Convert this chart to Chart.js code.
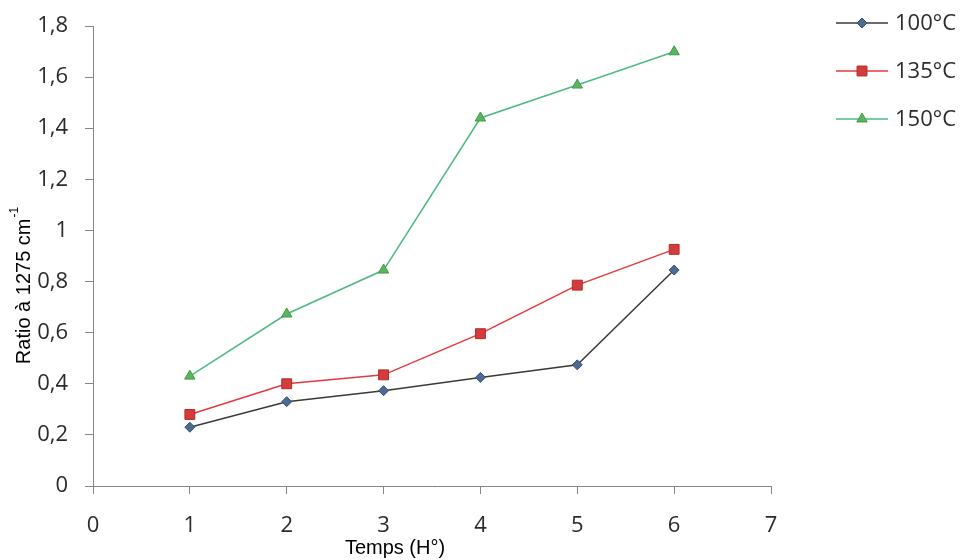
<!DOCTYPE html>
<html>
<head>
<meta charset="utf-8">
<script src="https://cdn.jsdelivr.net/npm/chart.js@4"></script>
<style>
  html, body { margin: 0; padding: 0; background: #fff; }
  #wrap { width: 961px; height: 560px; position: relative; }
</style>
</head>
<body>
<div id="wrap"><canvas id="main-chart" width="961" height="560"></canvas></div>
<script>
const hours   = [1, 2, 3, 4, 5, 6];
const labels  = ['100°C', '135°C', '150°C'];
const t100    = [0.23, 0.33, 0.373, 0.425, 0.474, 0.845];
const t135    = [0.28, 0.40, 0.435, 0.596, 0.786, 0.926];
const t150    = [0.43, 0.673, 0.845, 1.44, 1.569, 1.699];

const xTitle = 'Temps (H°)';
const yTitle = 'Ratio à 1275 cm';

const tickFont = { family: 'Open Sans', size: 22 };
const axisGray = '#868686';
const textGray = '#2b2b2b';

const styles = [
  { line: '#3a3a3a', fill: '#4d6a92', border: '#34506f', point: 'rectRot', r: 5 },
  { line: '#e8383d', fill: '#d23c3c', border: '#b52a2a', point: 'rect',    r: 7 },
  { line: '#4dba82', fill: '#5db45c', border: '#3f9a4a', point: 'triangle', r: 6 },
];

const toPts = vals => hours.map((h, i) => ({ x: h, y: vals[i] }));

const datasets = [t100, t135, t150].map((vals, i) => ({
  label: labels[i],
  data: toPts(vals),
  borderColor: styles[i].line,
  borderWidth: 1.5,
  pointStyle: styles[i].point,
  pointRadius: styles[i].r,
  pointBackgroundColor: styles[i].fill,
  pointBorderColor: styles[i].border,
  pointBorderWidth: 1,
  tension: 0,
  fill: false,
}));

// legend + axis titles drawn by hand to match the original placement
const extras = {
  id: 'extras',
  afterDraw(chart) {
    const ctx = chart.ctx;
    ctx.save();

    // legend
    const rows = [23, 71, 119];
    chart.data.datasets.forEach((ds, i) => {
      const y = rows[i];
      ctx.strokeStyle = ds.borderColor;
      ctx.lineWidth = 1.5;
      ctx.beginPath();
      ctx.moveTo(836, y);
      ctx.lineTo(888, y);
      ctx.stroke();
      ctx.fillStyle = ds.pointBackgroundColor;
      ctx.strokeStyle = ds.pointBorderColor;
      ctx.lineWidth = 1;
      Chart.helpers.drawPoint(ctx, {
        pointStyle: ds.pointStyle,
        radius: ds.pointRadius,
        borderWidth: 1,
      }, 862, y);
      ctx.fillStyle = textGray;
      ctx.font = '22px "Open Sans"';
      ctx.textAlign = 'left';
      ctx.textBaseline = 'middle';
      ctx.fillText(ds.label, 895, y + 1);
    });

    // x title
    ctx.fillStyle = '#000';
    ctx.font = '20px "Liberation Sans"';
    ctx.textAlign = 'center';
    ctx.textBaseline = 'middle';
    ctx.fillText(xTitle, 395, 548);

    // y title, rotated, with superscript -1
    ctx.translate(24, 286);
    ctx.rotate(-Math.PI / 2);
    ctx.font = '20px "Liberation Sans"';
    const w = ctx.measureText(yTitle).width;
    ctx.font = '12px "Liberation Sans"';
    const sw = ctx.measureText('-1').width;
    const start = -(w + sw) / 2;
    ctx.textAlign = 'left';
    ctx.font = '20px "Liberation Sans"';
    ctx.fillText(yTitle, start, 0);
    ctx.font = '12px "Liberation Sans"';
    ctx.fillText('-1', start + w + 1, -9);

    ctx.restore();
  }
};

new Chart(document.getElementById('main-chart').getContext('2d'), {
  type: 'line',
  data: { datasets },
  options: {
    responsive: false,
    animation: false,
    layout: { padding: { top: 26, right: 190, left: 0, bottom: 0 } },
    plugins: {
      legend: { display: false },
      tooltip: { enabled: false },
    },
    scales: {
      x: {
        type: 'linear',
        min: 0,
        max: 7,
        ticks: { stepSize: 1, color: textGray, font: tickFont, padding: 19, maxRotation: 0 },
        grid: { drawOnChartArea: false, tickLength: 8, color: axisGray },
        border: { color: axisGray, width: 1 },
        afterFit: s => { s.height = 74; s.paddingLeft = 0; s.paddingRight = 0; },
      },
      y: {
        min: 0,
        max: 1.8,
        ticks: {
          stepSize: 0.2,
          color: textGray,
          font: tickFont,
          padding: 17,
          callback: v => String(+v.toFixed(1)).replace('.', ','),
        },
        grid: { drawOnChartArea: false, tickLength: 8, color: axisGray },
        border: { color: axisGray, width: 1 },
        afterFit: s => { s.width = 93; s.paddingTop = 0; s.paddingBottom = 0; },
      },
    },
  },
  plugins: [extras],
});
</script>
</body>
</html>
